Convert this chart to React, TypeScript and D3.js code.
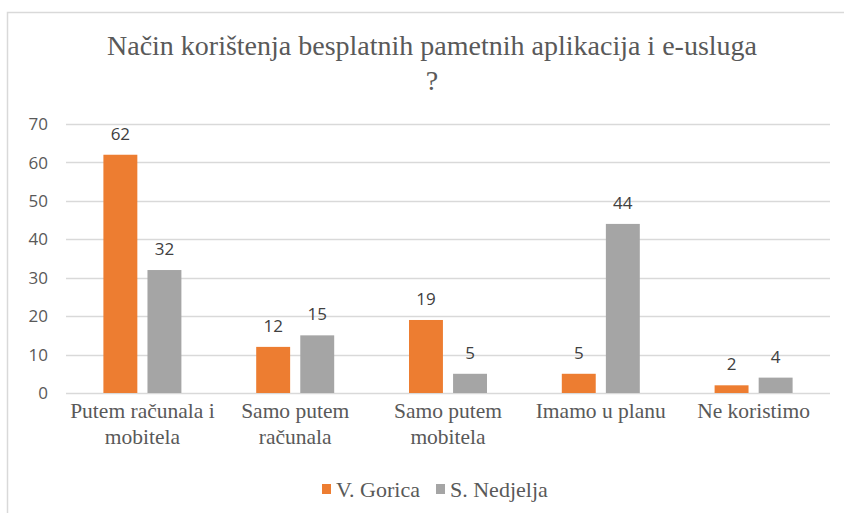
import { useEffect, useRef } from 'react';
import * as d3 from 'd3';

const categories = [
  ['Putem računala i', 'mobitela'],
  ['Samo putem', 'računala'],
  ['Samo putem', 'mobitela'],
  ['Imamo u planu'],
  ['Ne koristimo'],
];
const seriesNames = ['V. Gorica', 'S. Nedjelja'];
const gorica = [62, 12, 19, 5, 2];
const nedjelja = [32, 15, 5, 44, 4];
const yTicks = [0, 10, 20, 30, 40, 50, 60, 70];
const colors = ['#ED7D31', '#A5A5A5'];

const W = 844;
const H = 513;
const serif = '"Liberation Serif", "Times New Roman", serif';
const sans = '"Open Sans", "Liberation Sans", Arial, sans-serif';

function App() {
  const ref = useRef<SVGSVGElement>(null);

  useEffect(() => {
    const svg = d3.select(ref.current);
    svg.selectAll('*').remove();

    const margin = { top: 124, right: 14, bottom: 120, left: 66 };
    const width = W - margin.left - margin.right;
    const height = H - margin.top - margin.bottom;

    // chart frame
    svg.append('path')
      .attr('d', `M7.5,${H} V12.5 H${W}`)
      .attr('fill', 'none')
      .attr('stroke', '#D9D9D9')
      .attr('stroke-width', 1.5);

    // title
    const title = svg.append('text')
      .attr('text-anchor', 'middle')
      .attr('font-family', serif)
      .attr('font-size', 28)
      .attr('fill', '#595959');
    title.append('tspan').attr('x', 432).attr('y', 55).text('Način korištenja besplatnih pametnih aplikacija  i  e-usluga');
    title.append('tspan').attr('x', 432).attr('y', 90).text('?');

    const x0 = d3.scaleBand<number>()
      .domain(d3.range(categories.length))
      .range([0, width]);
    const x1 = d3.scaleBand<number>()
      .domain([0, 1])
      .range([0, 78])
      .paddingInner(0.23);
    const y = d3.scaleLinear().domain([0, 70]).range([height, 0]);

    const g = svg.append('g').attr('transform', `translate(${margin.left},${margin.top})`);

    // grid
    g.selectAll('.grid')
      .data(yTicks)
      .enter()
      .append('line')
      .attr('x1', 0)
      .attr('x2', width)
      .attr('y1', (d) => Math.round(y(d)) + 0.5)
      .attr('y2', (d) => Math.round(y(d)) + 0.5)
      .attr('stroke', '#D9D9D9')
      .attr('stroke-width', 1.3);

    g.selectAll('.ytick')
      .data(yTicks)
      .enter()
      .append('text')
      .attr('x', -18)
      .attr('y', (d) => y(d))
      .attr('dy', '0.36em')
      .attr('text-anchor', 'end')
      .attr('font-family', sans)
      .attr('font-size', 17)
      .attr('fill', '#595959')
      .text((d) => d);

    const series = [gorica, nedjelja];
    series.forEach((vals, si) => {
      const off = x0.bandwidth() / 2 - 39;
      g.selectAll(`.bar${si}`)
        .data(vals)
        .enter()
        .append('rect')
        .attr('x', (d, i) => x0(i)! + off + x1(si)!)
        .attr('y', (d) => y(d))
        .attr('width', x1.bandwidth())
        .attr('height', (d) => height - y(d))
        .attr('fill', colors[si]);

      g.selectAll(`.lab${si}`)
        .data(vals)
        .enter()
        .append('text')
        .attr('x', (d, i) => x0(i)! + off + x1(si)! + x1.bandwidth() / 2)
        .attr('y', (d) => y(d) - 21)
        .attr('dy', '0.36em')
        .attr('text-anchor', 'middle')
        .attr('font-family', sans)
        .attr('font-size', 17)
        .attr('fill', '#404040')
        .text((d) => d);
    });

    // category labels
    categories.forEach((lines, i) => {
      const t = g.append('text')
        .attr('text-anchor', 'middle')
        .attr('font-family', serif)
        .attr('font-size', 21.5)
        .attr('fill', '#595959');
      lines.forEach((line, li) => {
        t.append('tspan')
          .attr('x', x0(i)! + x0.bandwidth() / 2)
          .attr('y', height + 25 + li * 26)
          .text(line);
      });
    });

    // legend
    const legend = svg.append('g').attr('transform', 'translate(322,489)');
    const legendX = [0, 114];
    seriesNames.forEach((name, i) => {
      legend.append('rect')
        .attr('x', legendX[i])
        .attr('y', -5)
        .attr('width', 9)
        .attr('height', 10)
        .attr('fill', colors[i]);
      legend.append('text')
        .attr('x', legendX[i] + 14)
        .attr('y', 0)
        .attr('dy', '0.35em')
        .attr('font-family', serif)
        .attr('font-size', 22)
        .attr('fill', '#595959')
        .text(name);
    });
  }, []);

  return (
    <svg
      ref={ref}
      width={W}
      height={H}
      style={{ position: 'absolute', left: 0, top: 0, background: '#fff' }}
    />
  );
}

export default App;
